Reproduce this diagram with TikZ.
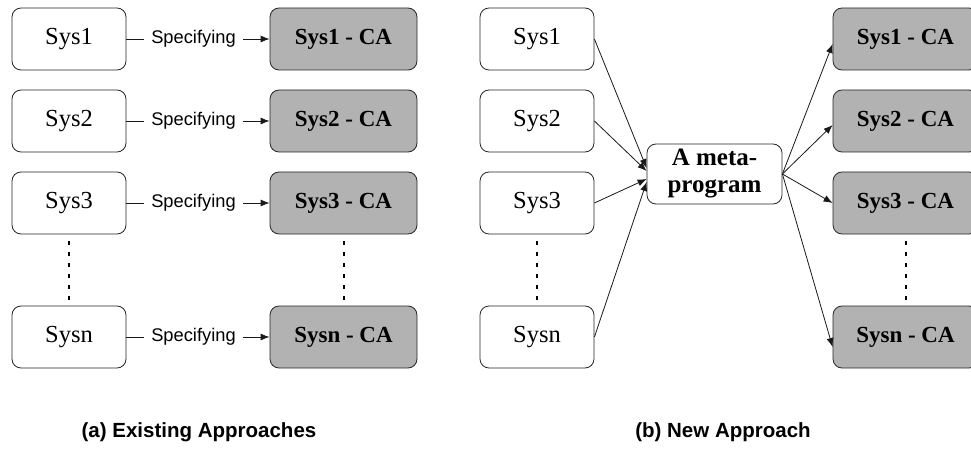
\documentclass[tikz,border=0pt]{standalone}
\usepackage{fontspec}
\setmainfont{Liberation Serif}
\setsansfont{Liberation Sans}
\usetikzlibrary{arrows.meta}
\begin{document}
\begin{tikzpicture}[x=1pt,y=-1pt,
  sysbox/.style={draw=black!85, line width=0.8pt, rounded corners=9pt,
    minimum width=114pt, minimum height=62pt, inner sep=0pt, fill=white,
    font=\fontsize{24.5}{28}\selectfont},
  cabox/.style={sysbox, fill=black!30, minimum width=147pt,
    font=\fontsize{23}{27}\selectfont\bfseries},
  metabox/.style={sysbox, minimum width=135pt, minimum height=60pt, align=center,
    font=\fontsize{25}{27}\selectfont\bfseries},
  spec/.style={inner xsep=7.5pt, inner ysep=0pt, font=\sffamily\fontsize{18.3}{22}\selectfont},
  caption/.style={font=\sffamily\bfseries\fontsize{20.5}{24}\selectfont},
  conn/.style={draw=black!90, line width=0.8pt},
  arr/.style={conn, -{Latex[length=9pt,width=7pt]}},
  dotline/.style={line width=2pt, dash pattern=on 3.5pt off 7.5pt, shorten <=7pt, shorten >=6pt}
]
\useasboundingbox (0,0) rectangle (971,449);

% ---------- (a) Existing approaches ----------
\node[sysbox] (a1) at (69,39)  {Sys1};
\node[sysbox] (a2) at (69,121) {Sys2};
\node[sysbox] (a3) at (69,203) {Sys3};
\node[sysbox] (an) at (69,337) {Sysn};

\node[cabox] (ac1) at (343.5,39)  {Sys1 - CA};
\node[cabox] (ac2) at (343.5,121) {Sys2 - CA};
\node[cabox] (ac3) at (343.5,203) {Sys3 - CA};
\node[cabox] (acn) at (343.5,337) {Sysn - CA};

\node[spec] (s1) at (193.5,39)  {Specifying};
\node[spec] (s2) at (193.5,121) {Specifying};
\node[spec] (s3) at (193.5,203) {Specifying};
\node[spec] (sn) at (193.5,337) {Specifying};

\foreach \i in {1,2,3,n} {
  \draw[conn] (a\i.east) -- (s\i.west);
  \draw[arr] (s\i.east) -- (ac\i.west);
}

\draw[dotline] (a3.south) -- (an.north);
\draw[dotline] (ac3.south) -- (acn.north);

\node[caption] (capa) at (199,432) {(a) Existing Approaches};

% ---------- (b) New approach ----------
\node[sysbox] (b1) at (537,39)  {Sys1};
\node[sysbox] (b2) at (537,121) {Sys2};
\node[sysbox] (b3) at (537,203) {Sys3};
\node[sysbox] (bn) at (537,337) {Sysn};

\node[metabox] (meta) at (714.5,174) {A meta-\\program};

\node[cabox, minimum width=145pt] (bc1) at (905.5,39)  {Sys1 - CA};
\node[cabox, minimum width=145pt] (bc2) at (905.5,121) {Sys2 - CA};
\node[cabox, minimum width=145pt] (bc3) at (905.5,203) {Sys3 - CA};
\node[cabox, minimum width=145pt] (bcn) at (905.5,337) {Sysn - CA};

\draw[arr] (b1.east) -- ([yshift=6pt]meta.west);
\draw[arr] (b2.east) -- ([yshift=3pt]meta.west);
\draw[arr] (b3.east) -- ([yshift=-5pt]meta.west);
\draw[arr] (bn.east) -- ([yshift=-8pt]meta.west);

\draw[arr] (meta.east) -- ([yshift=-5pt]bc1.west);
\draw[arr] (meta.east) -- ([yshift=-4pt]bc2.west);
\draw[arr] (meta.east) -- ([yshift=0pt]bc3.west);
\draw[arr] (meta.east) -- ([yshift=-10pt]bcn.west);

\draw[dotline] (b3.south) -- (bn.north);
\draw[dotline] (bc3.south) -- (bcn.north);

\node[caption] (capb) at (723,432) {(b) New Approach};
\end{tikzpicture}
\end{document}
